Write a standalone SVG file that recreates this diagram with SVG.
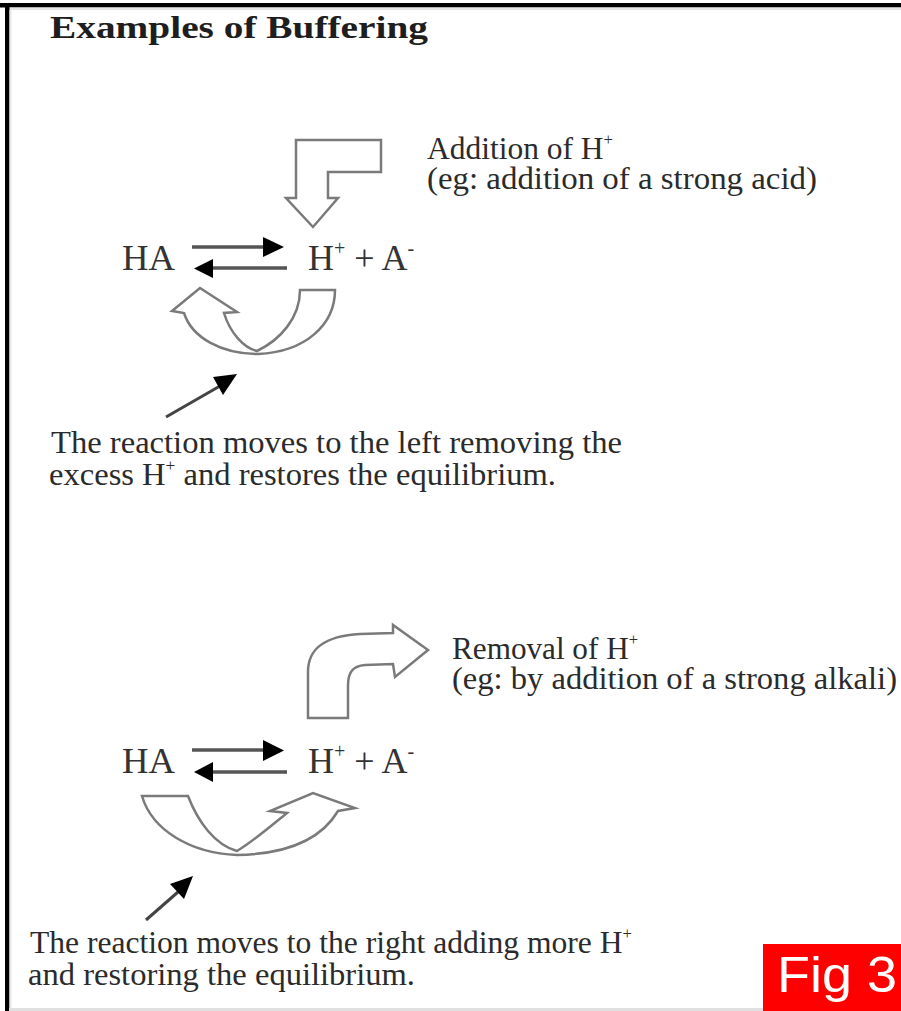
<svg xmlns="http://www.w3.org/2000/svg" width="901" height="1011" viewBox="0 0 901 1011">
<style>
.t{font-family:"Liberation Serif","DejaVu Serif",serif;fill:#2b2b2b;}
.title{font-size:31px;font-weight:bold;fill:#1e1e1e;}
.lbl{font-size:32px;}
.eq{font-size:36px;fill:#333;}
.blk{fill:#fff;stroke:#7a7a7a;stroke-width:2.5;stroke-linejoin:miter;}
.eqline{stroke:#555;stroke-width:3.5;fill:none;}
.head{fill:#000;}
.ptr{stroke:#444;stroke-width:3;fill:none;}
</style>
<rect x="0" y="0" width="901" height="1011" fill="#fff"/>
<g id="frame">
<rect x="0" y="3" width="901" height="4.5" fill="#000"/>
<rect x="9" y="7.5" width="892" height="2.5" fill="#e4e4e4"/>
<rect x="5" y="3" width="4.5" height="1008" fill="#000"/>
<rect x="9.5" y="10" width="2" height="1001" fill="#e8e8e8"/>
<rect x="9" y="1008" width="754" height="3" fill="#e0e0e0"/>
</g>
<g id="title"><text class="t title" x="50" y="38" textLength="378" lengthAdjust="spacingAndGlyphs">Examples of Buffering</text></g>

<g id="connectors">
<path class="blk" d="M296,140 L381,140 L381,172 L328,172 L328,198 L338,198 L313,227 L286,198 L296,198 Z"/>
<line class="eqline" x1="192" y1="247" x2="266" y2="247"/>
<polygon class="head" points="263,237 284,247 263,257"/>
<line class="eqline" x1="287" y1="268" x2="211" y2="268"/>
<polygon class="head" points="213,259 194,268.5 213,278"/>
<path class="blk" d="M335,290 C335,325 305,352 258,354 C222,354 192,338 184,313 L172,311 L200,288 L237,312 L224,313 C230,333 244,348 257,351 C280,340 300,318 300,290 Z"/>
<line class="ptr" x1="166" y1="417" x2="220" y2="386"/>
<polygon class="head" points="237,374 213,377 223,395"/>
<path class="blk" d="M308,718 L308,672 C308,648 325,636 360,634 L393,633 L393,625 L428,650 L395,677 L393,664 L365,665 C352,666 348,673 348,686 L348,718 Z"/>
<line class="eqline" x1="192" y1="750" x2="266" y2="750"/>
<polygon class="head" points="263,740 284,750.5 263,761"/>
<line class="eqline" x1="287" y1="772" x2="211" y2="772"/>
<polygon class="head" points="213,762 194,772 213,782"/>
<path class="blk" d="M142,796 L188,796 C198,822 215,845 237,851 C255,840 272,825 287,813 L270,811 L313,793 L355,808 L338,811 C322,838 290,854 237,855 C190,853 152,830 142,796 Z"/>
<line class="ptr" x1="146" y1="920" x2="178" y2="892"/>
<polygon class="head" points="193,876 170,884 184,899"/>
</g>

<g id="eq-upper">
<text class="t eq" x="122" y="270" textLength="53" lengthAdjust="spacingAndGlyphs">HA</text>
<text class="t eq" x="308" y="270">H<tspan font-size="20" dy="-15">+</tspan><tspan dy="15"> + A</tspan><tspan font-size="20" dy="-15">-</tspan></text>
</g>
<g id="label-addition">
<text class="t lbl" x="427" y="159" font-size="31" textLength="186" lengthAdjust="spacingAndGlyphs">Addition of H<tspan font-size="17" dy="-14">+</tspan></text>
<text class="t lbl" x="427" y="189" textLength="390" lengthAdjust="spacingAndGlyphs">(eg: addition of a strong acid)</text>
</g>
<g id="note-upper">
<text class="t lbl" x="51" y="453" textLength="571" lengthAdjust="spacingAndGlyphs">The reaction moves to the left removing the</text>
<text class="t lbl" x="49" y="485" textLength="507" lengthAdjust="spacingAndGlyphs">excess H<tspan font-size="17" dy="-14">+</tspan><tspan dy="14"> and restores the equilibrium.</tspan></text>
</g>

<g id="eq-lower">
<text class="t eq" x="122" y="773" textLength="53" lengthAdjust="spacingAndGlyphs">HA</text>
<text class="t eq" x="308" y="773">H<tspan font-size="20" dy="-15">+</tspan><tspan dy="15"> + A</tspan><tspan font-size="20" dy="-15">-</tspan></text>
</g>
<g id="label-removal">
<text class="t lbl" x="452" y="659" font-size="31" textLength="186" lengthAdjust="spacingAndGlyphs">Removal of H<tspan font-size="17" dy="-14">+</tspan></text>
<text class="t lbl" x="452" y="689" textLength="445" lengthAdjust="spacingAndGlyphs">(eg: by addition of a strong alkali)</text>
</g>
<g id="note-lower">
<text class="t lbl" x="30" y="953" textLength="602" lengthAdjust="spacingAndGlyphs">The reaction moves to the right adding more H<tspan font-size="17" dy="-14">+</tspan></text>
<text class="t lbl" x="28" y="985" textLength="387" lengthAdjust="spacingAndGlyphs">and restoring the equilibrium.</text>
</g>

<g id="fig-badge">
<rect x="763" y="944" width="138" height="67" fill="#ff0000"/>
<text x="777" y="992" font-family="'Liberation Sans',Arial,sans-serif" font-size="50" fill="#fff" textLength="120" lengthAdjust="spacingAndGlyphs">Fig 3</text>
</g>
</svg>
